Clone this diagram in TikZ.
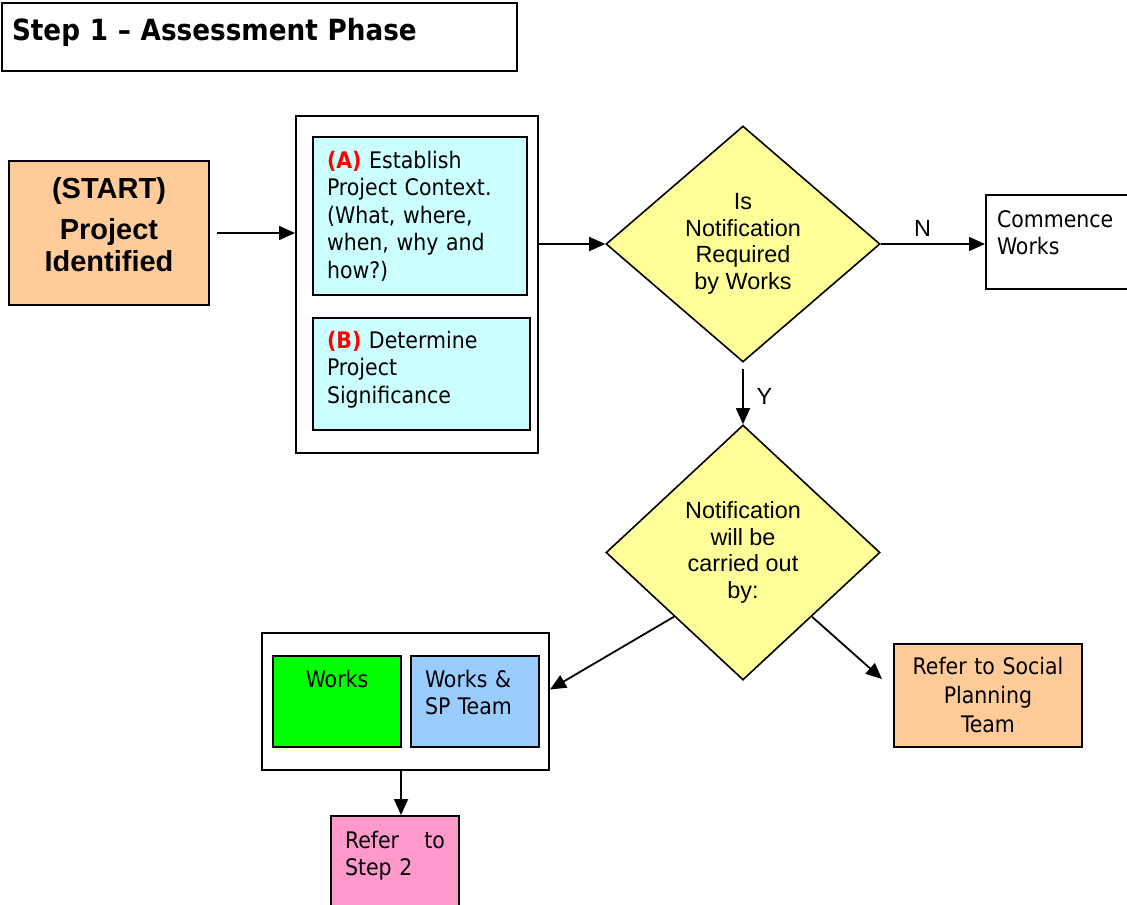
\documentclass[tikz,border=0pt]{standalone}
\usepackage{fontspec}
\newfontfamily\tahoma{DejaVu Sans Condensed}
\newfontfamily\arialfont{Liberation Sans}
\usepackage{tikz}
\usetikzlibrary{shapes.geometric, arrows.meta}

\definecolor{peach}{HTML}{FFCC99}
\definecolor{ctxcyan}{HTML}{CCFFFF}
\definecolor{decyellow}{HTML}{FFFF99}
\definecolor{worksgreen}{HTML}{00FF00}
\definecolor{teamblue}{HTML}{99CCFF}
\definecolor{steppink}{HTML}{FF99CC}

\begin{document}
\begin{tikzpicture}[x=0.5pt, y=-0.5pt,
    tbox/.style={draw, line width=1pt, anchor=north west, inner xsep=7pt,
                 inner ysep=0pt, align=left,
                 font=\tahoma\fontsize{11.4}{13.75}\selectfont},
    frame/.style={draw, line width=1pt, anchor=north west, inner sep=0pt},
    decision/.style={diamond, draw, line width=0.8pt, fill=decyellow,
                     inner sep=0pt, align=center,
                     font=\arialfont\fontsize{11.7}{13.25}\selectfont},
    arr/.style={line width=0.9pt, -{Triangle[length=8pt, width=7pt]}},
    lab/.style={font=\arialfont\fontsize{11.7}{13.25}\selectfont}
  ]
  \clip (0,0) rectangle (1127,904);

  % heading
  \node[tbox, inner xsep=5pt, text width=247.5pt, text height=18.75pt, text depth=15.25pt,
        font=\tahoma\bfseries\fontsize{14.6}{16}\selectfont] (title) at (1,2)
        {Step 1 – Assessment Phase};

  % start
  \node[tbox, align=center, fill=peach, text width=86pt, text height=18.5pt, text depth=53.5pt,
        font=\arialfont\bfseries\fontsize{14.5}{16}\selectfont] (start) at (8,160)
        {(START)\\[4.5pt]Project\\Identified};

  % assessment group
  \node[frame, minimum width=121pt, minimum height=168.5pt] (outer) at (295,115) {};
  \node[tbox, fill=ctxcyan, text width=93pt, text height=15.5pt, text depth=63.5pt] (ctx) at (312,136)
        {\textcolor{red}{\bfseries(A)} Establish\\Project Context.\\(What, where,\\when, why and\\how?)};
  \node[tbox, fill=ctxcyan, text width=94.5pt, text height=15pt, text depth=41pt] (sig) at (312,317)
        {\textcolor{red}{\bfseries(B)} Determine\\Project\\Significance};

  % decisions
  \node[decision, minimum width=137pt, minimum height=118pt] (dec1) at (743,244)
        {Is\\Notification\\Required\\by Works};
  \node[tbox, inner xsep=5.5pt, text width=66.5pt, text height=16pt, text depth=31pt] (commence) at (985,194)
        {Commence\\Works};
  \node[decision, minimum width=137pt, minimum height=127.5pt] (dec2) at (743,552.5)
        {Notification\\will be\\carried out\\by:};

  % who notifies
  \node[frame, minimum width=143.5pt, minimum height=68.5pt] (outer2) at (261,632) {};
  \node[tbox, align=center, fill=worksgreen, text width=50pt, text height=15.5pt, text depth=30pt] (works) at (272,655)
        {Works};
  \node[tbox, fill=teamblue, text width=50pt, text height=15.5pt, text depth=30pt] (team) at (410,655)
        {Works \&\\SP Team};
  \node[tbox, fill=steppink, text width=50pt, text height=16pt, text depth=39pt] (step2) at (330,815)
        {Refer\hfill to\\Step 2};
  \node[tbox, align=center, fill=peach, text width=80pt, text height=15pt, text depth=36.5pt,
        font=\tahoma\fontsize{11.4}{14.5}\selectfont] (social) at (893,643)
        {Refer to Social\\Planning\\Team};

  % connectors
  \draw[arr] ([xshift=3.5pt]start.east) -- (start.east -| outer.west);
  \draw[arr] (dec1.west -| outer.east) -- (dec1.west);
  \draw[arr] (dec1.east) -- (dec1.east -| commence.west) node[lab, pos=0.4, above] (nlab) {N};
  \draw[arr] ([yshift=-3pt]dec1.south) -- (dec2.north) node[lab, midway, right, xshift=3pt] (ylab) {Y};
  \draw[arr] (dec2.south west) -- ([yshift=6pt]outer2.east);
  \draw[arr] (dec2.south east) -- ([xshift=-5.5pt, yshift=8.25pt]social.west);
  \draw[arr] ([xshift=-2.25pt]outer2.south) -- ([xshift=-2.25pt]outer2.south |- step2.north);
\end{tikzpicture}
\end{document}
